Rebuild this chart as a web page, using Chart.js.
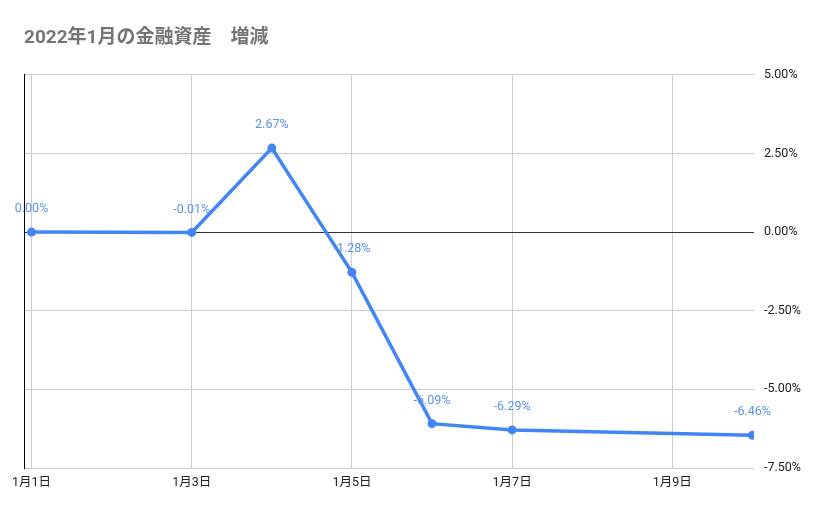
<!DOCTYPE html>
<html><head><meta charset="utf-8">
<script src="https://cdn.jsdelivr.net/npm/chart.js@4/dist/chart.umd.min.js"></script>
<style>html,body{margin:0;padding:0;background:#fff}#wrap{width:829px;height:514px}</style>
</head><body><div id="wrap"><canvas id="c"></canvas></div>
<script>
const titleText = "2022年1月の金融資産　増減";
const days = [1, 3, 4, 5, 6, 7, 10];
const values = [0.00, -0.01, 2.67, -1.28, -6.09, -6.29, -6.46];
const xTicks = [1, 3, 5, 7, 9];
const yTicks = [5, 2.5, 0, -2.5, -5, -7.5];
const FONT = "Roboto, 'Noto Sans CJK JP', sans-serif";

const labelPlugin = {
  id: 'ptLabels',
  afterDatasetsDraw(chart) {
    const ctx = chart.ctx;
    const meta = chart.getDatasetMeta(0);
    ctx.save();
    ctx.font = "12.5px " + FONT;
    ctx.fillStyle = "#5a93ee";
    ctx.textAlign = "center";
    ctx.textBaseline = "middle";
    meta.data.forEach((pt, i) => {
      ctx.fillText(values[i].toFixed(2) + "%", pt.x, pt.y - 23);
    });
    ctx.restore();
  }
};

new Chart(document.getElementById('c'), {
  type: 'line',
  data: {
    datasets: [{
      data: days.map((d, i) => ({x: d, y: values[i]})),
      borderColor: '#4285f4',
      backgroundColor: '#4285f4',
      borderWidth: 3.5,
      pointRadius: 4.5,
      pointBorderWidth: 0,
      tension: 0
    }]
  },
  options: {
    responsive: true,
    maintainAspectRatio: false,
    animation: false,
    layout: {padding: {left: 24, right: 18, top: 21, bottom: 17}},
    plugins: {
      legend: {display: false},
      tooltip: {enabled: false},
      title: {
        display: true, text: titleText, align: 'start',
        color: '#757575',
        font: {family: FONT, size: 19, weight: 'bold'},
        padding: {top: 6, bottom: 25}
      }
    },
    scales: {
      x: {
        type: 'linear', min: 0.906, max: 10.02,
        afterBuildTicks: (ax) => { ax.ticks = xTicks.map(v => ({value: v})); },
        ticks: {
          color: '#222', font: {family: FONT, size: 12.5},
          callback: (v) => "1月" + v + "日", maxRotation: 0, padding: 7
        },
        grid: {color: '#cccccc', drawTicks: false},
        border: {display: false}
      },
      y: {
        position: 'right', min: -7.5, max: 5,
        afterBuildTicks: (ax) => { ax.ticks = yTicks.map(v => ({value: v})); },
        ticks: {
          color: '#222', font: {family: FONT, size: 12.5},
          callback: (v) => v.toFixed(2) + "%", padding: 10
        },
        grid: {
          color: (c) => c.tick && c.tick.value === 0 ? '#333333' : '#cccccc',
          drawTicks: false
        },
        border: {display: false}
      },
      yl: {
        position: 'left', min: -7.5, max: 5,
        ticks: {display: false},
        grid: {display: false, drawTicks: false},
        border: {display: true, color: '#000', width: 1}
      }
    }
  },
  plugins: [labelPlugin]
});
</script></body></html>
